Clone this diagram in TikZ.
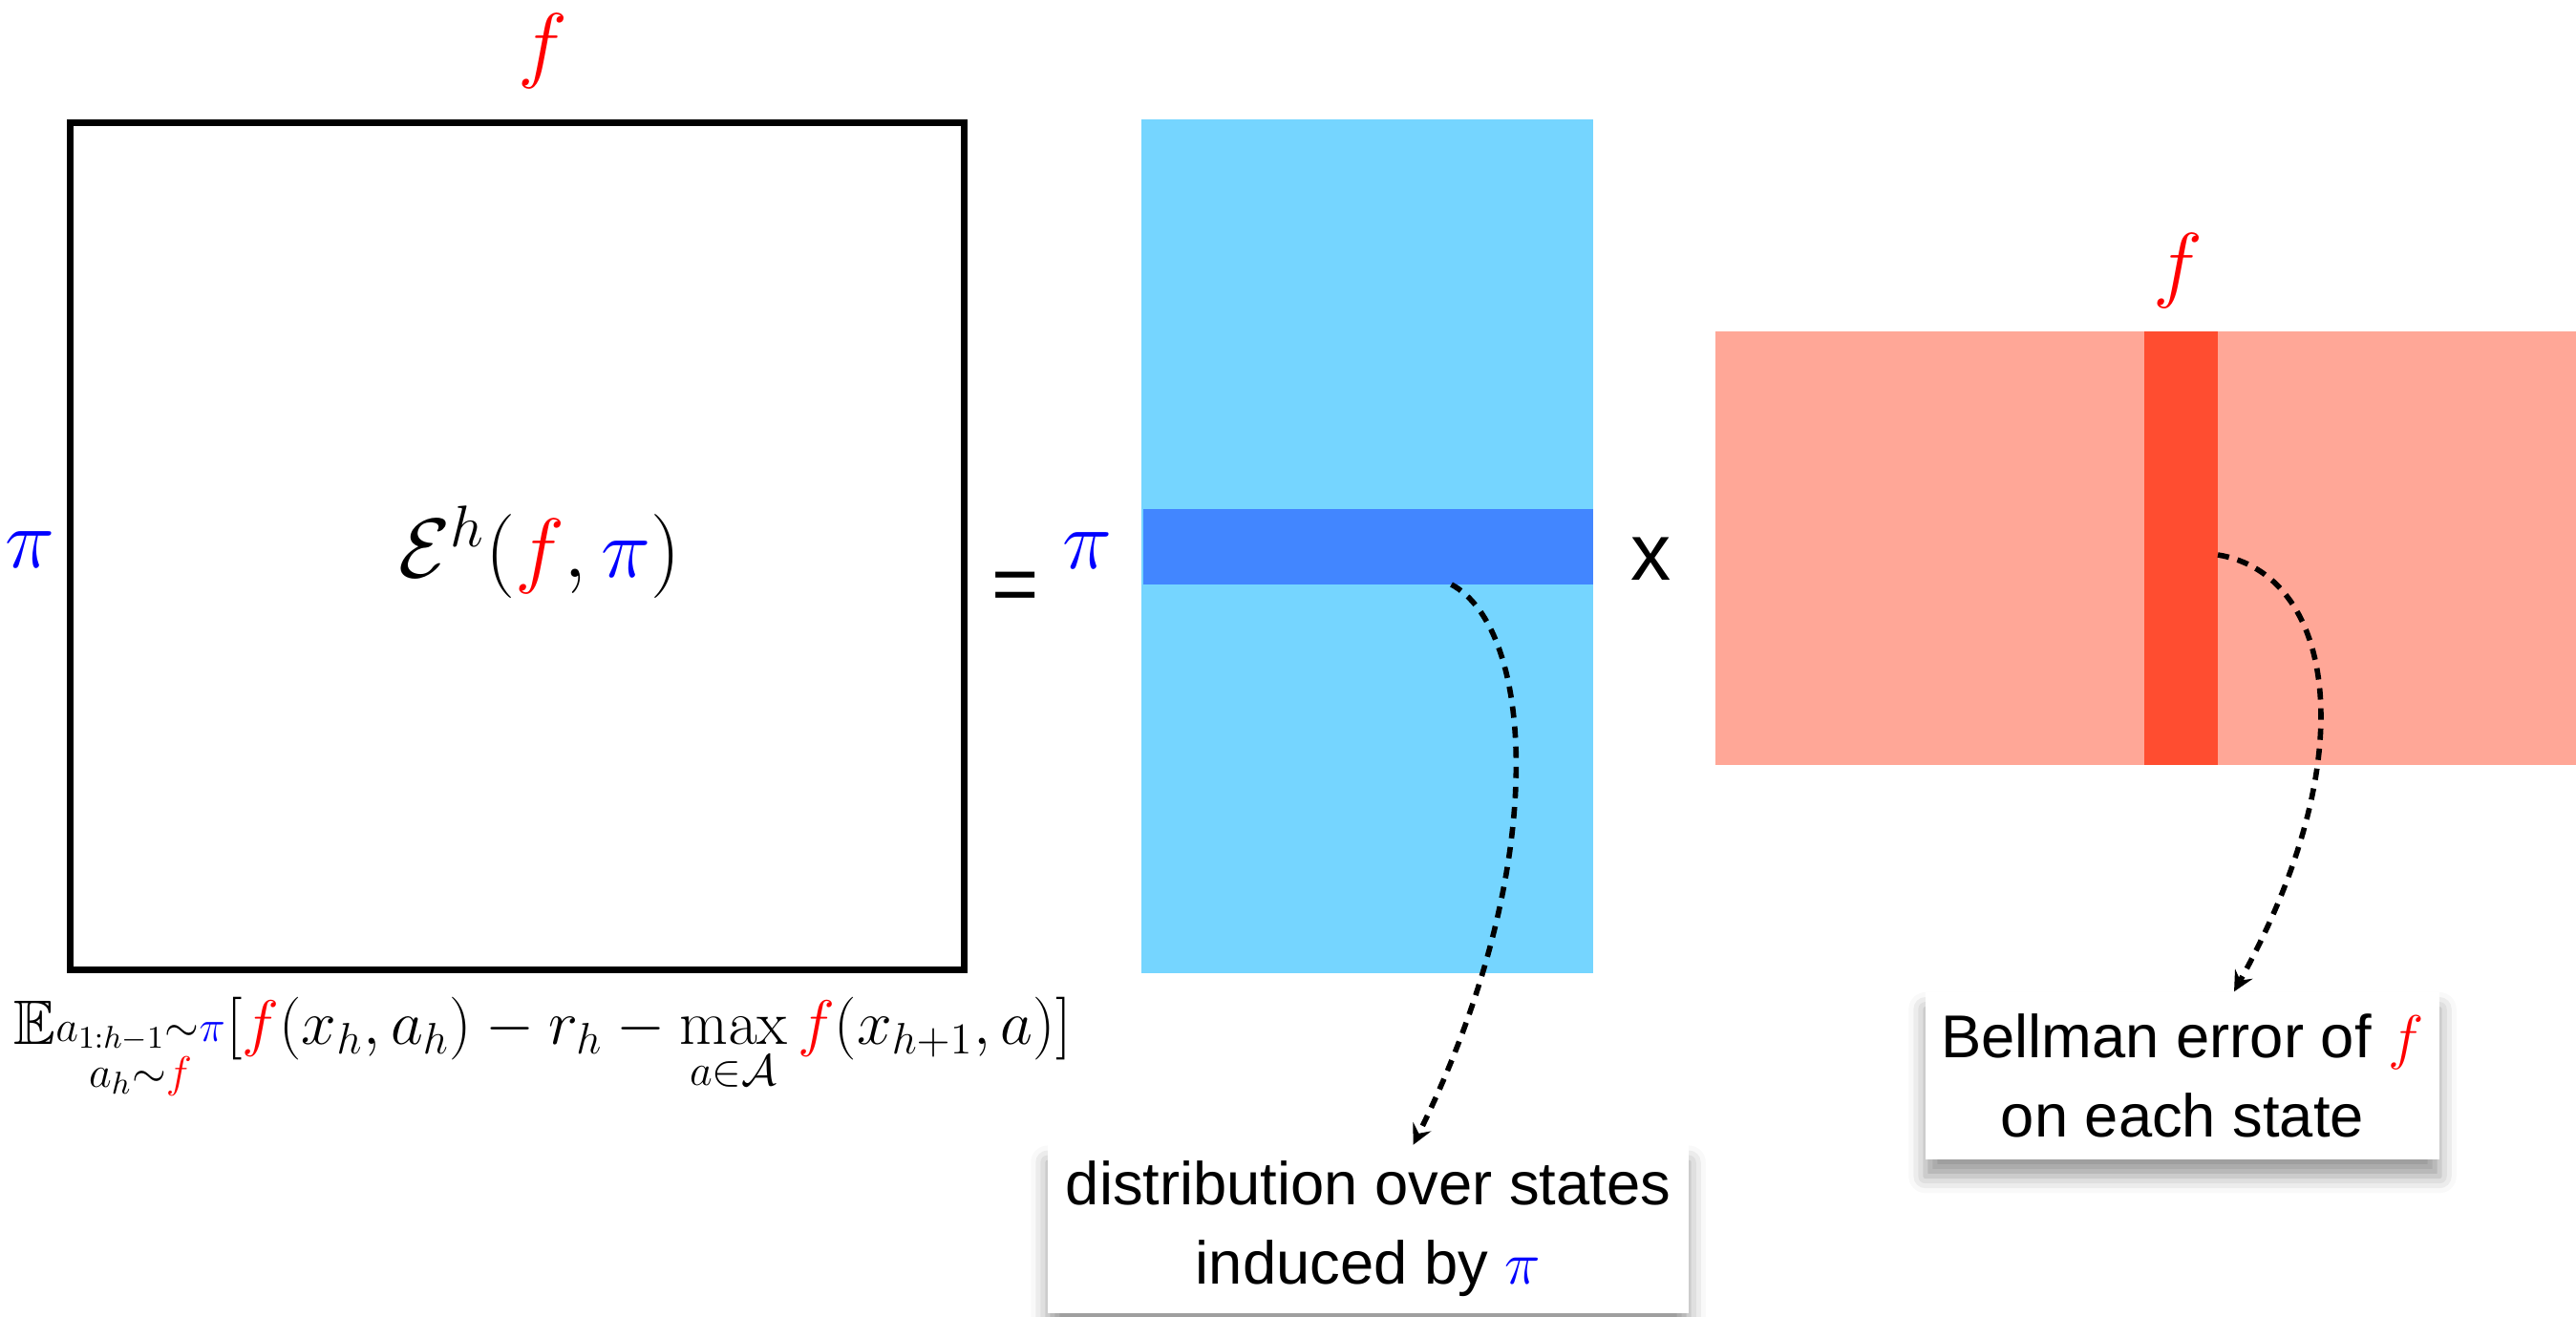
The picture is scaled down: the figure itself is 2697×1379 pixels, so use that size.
\RequirePackage{fix-cm}
\documentclass[tikz,border=0pt]{standalone}
\usepackage{amsmath}
\usepackage{amssymb}
\usepackage[no-math]{fontspec}
\setmainfont{Liberation Sans}
\usepackage{tikz}
\usetikzlibrary{arrows, positioning, shadows.blur, calc}
\definecolor{skyfill}{RGB}{117,213,255}
\definecolor{bandfill}{RGB}{66,134,255}
\definecolor{salmonfill}{RGB}{255,167,151}
\definecolor{stripfill}{RGB}{255,77,48}
\definecolor{fred}{RGB}{255,0,0}
\definecolor{piblue}{RGB}{0,0,255}
\newcommand{\fcol}{\textcolor{fred}{f}}
\newcommand{\picol}{\textcolor{piblue}{\pi}}
\tikzstyle{arrow} = [line width=1.6pt, dash pattern=on 3.4pt off 2.6pt, ->, >=stealth]
\tikzstyle{block} = [rectangle, inner sep=0pt, outer sep=0pt]
\tikzstyle{mathlabel} = [font=\fontsize{25}{30}\selectfont]
\tikzstyle{sign} = [font=\fontsize{24}{28}\selectfont]
\tikzstyle{note} = [rectangle, fill=white, align=center, minimum height=1.75cm, font=\fontsize{18}{23.6}\selectfont, blur shadow={shadow xshift=0pt, shadow yshift=-5pt, shadow blur radius=5pt, shadow opacity=40}]

\begin{document}
\begin{tikzpicture}[x=0.01cm, y=-0.01cm]
    \useasboundingbox (0,0) rectangle (2697,1379);

    % Matrice E^h
    \node (sq) [rectangle, draw, line width=2pt, minimum width=9.36cm, minimum height=8.86cm] at (541.5,572) {};
    \node (ftop) [mathlabel] at (568,54) {$\fcol$};
    \node (pileft) [mathlabel] at (31,576) {$\picol$};
    \node (err) [mathlabel] at (565,578) {$\mathcal{E}^h(\fcol,\picol)$};
    \node (formula) [font=\fontsize{18.7}{22}\selectfont, anchor=north] at (568,1032)
        {$\displaystyle \mathbb{E}_{\substack{a_{1:h-1}\sim\picol\\ a_h\sim\fcol}}[\fcol(x_h,a_h)-r_h-\max_{a\in\mathcal{A}}\fcol(x_{h+1},a)]$};

    % Distribucion
    \node (eq) [sign] at (1063,620) {=};
    \node (pimid) [mathlabel] at (1138,577) {$\picol$};
    \node (dist) [block, fill=skyfill, minimum width=4.73cm, minimum height=8.925cm] at (1431.5,572) {};
    \node (band) [block, fill=bandfill, minimum width=4.71cm, minimum height=0.79cm] at (1432.5,572.5) {};

    % Error de Bellman
    \node (times) [sign] at (1729,585) {x};
    \node (bell) [block, fill=salmonfill, minimum width=9.01cm, minimum height=4.54cm] at (2246.5,574) {};
    \node (strip) [block, fill=stripfill, minimum width=0.77cm, minimum height=4.54cm] at (2283.5,574) {};
    \node (fstrip) [mathlabel] at (2280,284) {$\fcol$};

    % Notas
    \node (distnote) [note, minimum width=6.71cm] at (1432.5,1287) {distribution over states\\induced by $\picol$};
    \node (bellnote) [note, minimum width=5.38cm] at (2285,1126.5) {Bellman error of $\fcol$\\on each state};

    % Flechas
    \draw [arrow] ([xshift=0.87cm]band.south) .. controls +(86,46) and +(146,-295) .. ([xshift=0.47cm]distnote.north);
    \draw [arrow] ([yshift=-0.07cm]strip.east) .. controls +(118,19) and +(141,-255) .. ([xshift=0.54cm]bellnote.north);
\end{tikzpicture}
\end{document}
